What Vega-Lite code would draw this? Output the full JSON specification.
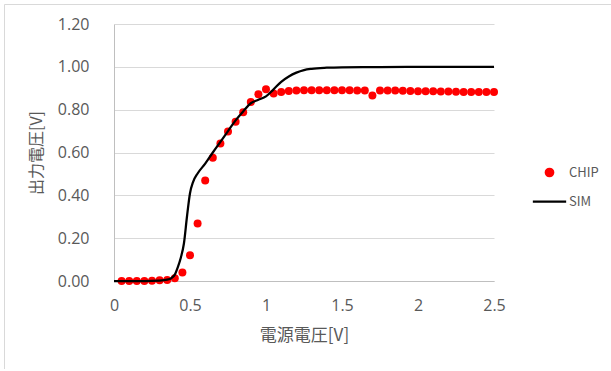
{
  "$schema": "https://vega.github.io/schema/vega-lite/v6.json",
  "width": 608,
  "height": 365,
  "autosize": {"type": "none"},
  "padding": {"left": 4, "top": 4, "right": 0, "bottom": 0},
  "background": "white",
  "config": {
    "view": {"stroke": "#D9D9D9", "strokeWidth": 1, "fill": "white"},
    "font": "Open Sans"
  },
  "data": {
    "values": [
      {"series": "CHIP", "v": 0.05, "out": 0},
      {"series": "CHIP", "v": 0.10, "out": 0},
      {"series": "CHIP", "v": 0.15, "out": 0},
      {"series": "CHIP", "v": 0.20, "out": 0},
      {"series": "CHIP", "v": 0.25, "out": 0.001},
      {"series": "CHIP", "v": 0.30, "out": 0.004},
      {"series": "CHIP", "v": 0.35, "out": 0.005},
      {"series": "CHIP", "v": 0.40, "out": 0.013},
      {"series": "CHIP", "v": 0.45, "out": 0.040},
      {"series": "CHIP", "v": 0.50, "out": 0.120},
      {"series": "CHIP", "v": 0.55, "out": 0.268},
      {"series": "CHIP", "v": 0.60, "out": 0.469},
      {"series": "CHIP", "v": 0.65, "out": 0.576},
      {"series": "CHIP", "v": 0.70, "out": 0.642},
      {"series": "CHIP", "v": 0.75, "out": 0.698},
      {"series": "CHIP", "v": 0.80, "out": 0.744},
      {"series": "CHIP", "v": 0.85, "out": 0.788},
      {"series": "CHIP", "v": 0.90, "out": 0.836},
      {"series": "CHIP", "v": 0.95, "out": 0.872},
      {"series": "CHIP", "v": 1.00, "out": 0.895},
      {"series": "CHIP", "v": 1.05, "out": 0.876},
      {"series": "CHIP", "v": 1.10, "out": 0.882},
      {"series": "CHIP", "v": 1.15, "out": 0.887},
      {"series": "CHIP", "v": 1.20, "out": 0.890},
      {"series": "CHIP", "v": 1.25, "out": 0.891},
      {"series": "CHIP", "v": 1.30, "out": 0.891},
      {"series": "CHIP", "v": 1.35, "out": 0.891},
      {"series": "CHIP", "v": 1.40, "out": 0.891},
      {"series": "CHIP", "v": 1.45, "out": 0.891},
      {"series": "CHIP", "v": 1.50, "out": 0.891},
      {"series": "CHIP", "v": 1.55, "out": 0.891},
      {"series": "CHIP", "v": 1.60, "out": 0.890},
      {"series": "CHIP", "v": 1.65, "out": 0.890},
      {"series": "CHIP", "v": 1.70, "out": 0.866},
      {"series": "CHIP", "v": 1.75, "out": 0.889},
      {"series": "CHIP", "v": 1.80, "out": 0.889},
      {"series": "CHIP", "v": 1.85, "out": 0.889},
      {"series": "CHIP", "v": 1.90, "out": 0.888},
      {"series": "CHIP", "v": 1.95, "out": 0.887},
      {"series": "CHIP", "v": 2.00, "out": 0.886},
      {"series": "CHIP", "v": 2.05, "out": 0.886},
      {"series": "CHIP", "v": 2.10, "out": 0.886},
      {"series": "CHIP", "v": 2.15, "out": 0.885},
      {"series": "CHIP", "v": 2.20, "out": 0.885},
      {"series": "CHIP", "v": 2.25, "out": 0.884},
      {"series": "CHIP", "v": 2.30, "out": 0.883},
      {"series": "CHIP", "v": 2.35, "out": 0.883},
      {"series": "CHIP", "v": 2.40, "out": 0.882},
      {"series": "CHIP", "v": 2.45, "out": 0.882},
      {"series": "CHIP", "v": 2.50, "out": 0.882},
      {"series": "SIM", "v": 0.00, "out": 0},
      {"series": "SIM", "v": 0.10, "out": 0},
      {"series": "SIM", "v": 0.20, "out": 0},
      {"series": "SIM", "v": 0.30, "out": 0.002},
      {"series": "SIM", "v": 0.35, "out": 0.006},
      {"series": "SIM", "v": 0.38, "out": 0.015},
      {"series": "SIM", "v": 0.40, "out": 0.030},
      {"series": "SIM", "v": 0.42, "out": 0.065},
      {"series": "SIM", "v": 0.44, "out": 0.110},
      {"series": "SIM", "v": 0.46, "out": 0.175},
      {"series": "SIM", "v": 0.48, "out": 0.300},
      {"series": "SIM", "v": 0.50, "out": 0.410},
      {"series": "SIM", "v": 0.52, "out": 0.462},
      {"series": "SIM", "v": 0.55, "out": 0.502},
      {"series": "SIM", "v": 0.60, "out": 0.548},
      {"series": "SIM", "v": 0.65, "out": 0.600},
      {"series": "SIM", "v": 0.70, "out": 0.650},
      {"series": "SIM", "v": 0.75, "out": 0.700},
      {"series": "SIM", "v": 0.80, "out": 0.750},
      {"series": "SIM", "v": 0.85, "out": 0.792},
      {"series": "SIM", "v": 0.90, "out": 0.830},
      {"series": "SIM", "v": 0.95, "out": 0.846},
      {"series": "SIM", "v": 1.00, "out": 0.862},
      {"series": "SIM", "v": 1.05, "out": 0.895},
      {"series": "SIM", "v": 1.10, "out": 0.930},
      {"series": "SIM", "v": 1.15, "out": 0.955},
      {"series": "SIM", "v": 1.20, "out": 0.973},
      {"series": "SIM", "v": 1.25, "out": 0.985},
      {"series": "SIM", "v": 1.30, "out": 0.991},
      {"series": "SIM", "v": 1.40, "out": 0.996},
      {"series": "SIM", "v": 1.50, "out": 0.998},
      {"series": "SIM", "v": 1.75, "out": 0.999},
      {"series": "SIM", "v": 2.00, "out": 1.0},
      {"series": "SIM", "v": 2.50, "out": 1.0}
    ]
  },
  "encoding": {
    "x": {
      "field": "v",
      "type": "quantitative",
      "scale": {"domain": [0, 2.5], "range": [110, 490], "nice": false, "zero": false},
      "axis": {
        "title": "電源電圧[V]",
        "values": [0, 0.5, 1, 1.5, 2, 2.5],
        "format": "~g",
        "grid": false,
        "ticks": false,
        "domainColor": "#BFBFBF",
        "domainWidth": 1,
        "offset": -88,
        "labelFont": "Open Sans",
        "labelFontSize": 16,
        "labelColor": "#595959",
        "labelPadding": 16,
        "labelFlush": false,
        "labelOverlap": false,
        "titleFont": "Noto Sans CJK JP",
        "titleFontSize": 17,
        "titleFontWeight": "normal",
        "titleColor": "#595959",
        "titlePadding": 14
      }
    },
    "y": {
      "field": "out",
      "type": "quantitative",
      "scale": {"domain": [0, 1.2], "range": [277, 20], "nice": false, "zero": false},
      "axis": {
        "title": "出力電圧[V]",
        "values": [0, 0.2, 0.4, 0.6, 0.8, 1.0, 1.2],
        "format": ".2f",
        "grid": true,
        "gridColor": "#D9D9D9",
        "gridWidth": 1,
        "ticks": false,
        "domainColor": "#BFBFBF",
        "domainWidth": 1,
        "offset": -110,
        "labelFont": "Open Sans",
        "labelFontSize": 16,
        "labelColor": "#595959",
        "labelPadding": 25,
        "labelFlush": false,
        "labelOverlap": false,
        "titleFont": "Noto Sans CJK JP",
        "titleFontSize": 16,
        "titleFontWeight": "normal",
        "titleColor": "#595959",
        "titlePadding": 13
      }
    },
    "color": {
      "field": "series",
      "type": "nominal",
      "scale": {"domain": ["CHIP", "SIM"], "range": ["#FF0000", "#000000"]},
      "legend": {
        "title": null,
        "orient": "none",
        "direction": "vertical",
        "legendX": 539,
        "legendY": 162,
        "padding": 0,
        "symbolStrokeWidth": 2.25,
        "labelFont": "Noto Sans CJK JP",
        "labelFontSize": 13,
        "labelColor": "#595959",
        "labelOffset": 13,
        "rowPadding": 14,
        "encode": {
          "symbols": {
            "update": {
              "shape": {"signal": "datum.value === 'SIM' ? 'stroke' : 'circle'"},
              "size": {"signal": "datum.value === 'SIM' ? 1110 : 56"},
              "fill": {"signal": "datum.value === 'SIM' ? 'transparent' : '#FF0000'"},
              "stroke": {"signal": "datum.value === 'SIM' ? '#000000' : 'transparent'"},
              "strokeWidth": {"value": 2.25},
              "opacity": {"value": 1}
            }
          }
        }
      }
    }
  },
  "layer": [
    {
      "transform": [{"filter": "datum.series === 'CHIP'"}],
      "mark": {"type": "point", "filled": true, "size": 64, "opacity": 1}
    },
    {
      "transform": [{"filter": "datum.series === 'SIM'"}],
      "mark": {"type": "line", "interpolate": "monotone", "strokeWidth": 2.25}
    }
  ]
}
